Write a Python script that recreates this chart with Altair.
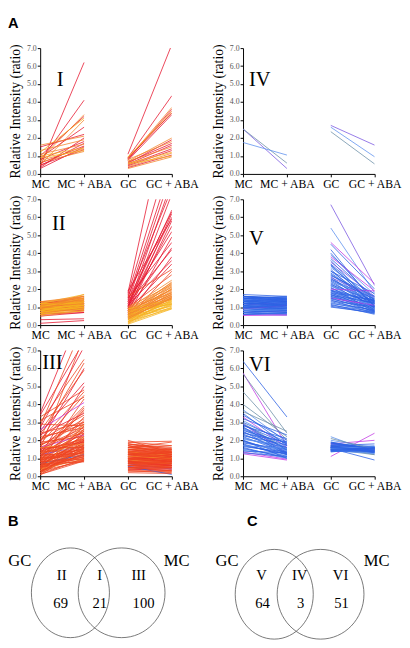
import altair as alt
import pandas as pd

CONDS = ["MC", "MC + ABA", "GC", "GC + ABA"]
TONES = ["r", "s", "o", "y", "b", "l", "g", "p", "m"]
TONE_COLORS = ["#e6162e", "#ee4421", "#f3862a", "#f6b420", "#2d62e4",
               "#5d90ee", "#6c8fa8", "#7a58e2", "#c23ae4"]

# (MC, MC+ABA, GC, GC+ABA, tone)
panel_I = [
    (0.40, 6.20, 1.10, 7.20, "r"), (0.70, 4.10, 0.90, 4.35, "r"), (0.80, 3.30, 0.85, 3.70, "o"),
    (1.00, 3.20, 0.80, 3.60, "r"), (0.50, 3.00, 0.90, 3.50, "o"), (1.20, 3.10, 0.95, 3.40, "y"),
    (0.90, 2.60, 0.75, 3.30, "r"), (1.50, 2.20, 0.85, 3.40, "r"), (1.60, 2.10, 0.70, 2.00, "o"),
    (0.35, 2.00, 0.60, 1.90, "r"), (1.30, 1.90, 0.80, 1.80, "o"), (0.80, 1.80, 0.65, 1.70, "r"),
    (0.45, 1.70, 0.55, 1.60, "r"), (1.10, 1.65, 0.70, 1.50, "o"), (0.60, 1.55, 0.50, 1.40, "r"),
    (0.30, 1.50, 0.45, 1.30, "r"), (1.00, 1.45, 0.60, 1.20, "y"), (0.75, 1.40, 0.40, 1.15, "o"),
    (0.50, 1.35, 0.35, 1.05, "r"), (0.90, 1.30, 0.55, 1.00, "y"), (0.65, 1.25, 0.30, 0.95, "o"),
]

panel_II = [
    (0.9, 1.1, 1.8, 13.0, "r"), (1.2, 1.5, 1.7, 10.0, "r"), (0.3, 0.35, 1.5, 9.0, "r"),
    (1.0, 1.2, 1.3, 8.5, "r"), (0.8, 0.9, 1.0, 8.0, "r"), (1.1, 1.0, 1.6, 7.6, "r"),
    (0.6, 0.8, 0.9, 7.3, "r"), (1.3, 1.1, 1.2, 6.4, "r"), (0.9, 1.3, 1.4, 6.3, "r"),
    (1.0, 0.9, 0.8, 6.2, "r"), (0.7, 1.0, 1.1, 6.0, "r"), (1.2, 1.4, 1.9, 5.9, "r"),
    (0.1, 0.25, 0.7, 5.8, "r"), (0.8, 1.1, 1.0, 5.5, "r"), (1.1, 1.2, 1.3, 5.2, "r"),
    (0.5, 0.7, 0.6, 4.9, "r"), (1.0, 1.0, 1.5, 4.6, "r"), (0.9, 0.8, 0.9, 4.3, "r"),
    (1.2, 1.3, 1.2, 4.2, "r"), (0.7, 0.9, 0.5, 3.8, "r"), (1.0, 1.1, 1.1, 3.6, "r"),
    (0.6, 0.7, 0.8, 3.4, "r"), (1.1, 1.3, 1.6, 3.1, "s"), (0.8, 1.0, 0.4, 3.0, "s"),
    (1.3, 1.2, 1.0, 2.8, "s"),
    (1.0, 1.7, 0.9, 2.5, "o"), (0.8, 1.5, 0.6, 2.4, "o"), (1.2, 1.6, 0.8, 2.35, "o"),
    (0.9, 1.4, 0.5, 2.3, "o"), (0.7, 1.2, 1.0, 2.25, "o"), (1.1, 1.5, 0.7, 2.2, "o"),
    (0.6, 1.0, 0.4, 2.15, "o"), (1.0, 1.3, 0.9, 2.1, "o"), (1.2, 1.1, 0.3, 2.05, "o"),
    (0.9, 1.2, 0.6, 2.0, "o"), (0.8, 1.3, 0.8, 1.95, "o"), (1.1, 1.4, 0.5, 1.9, "o"),
    (0.7, 0.9, 0.2, 1.85, "o"), (1.0, 1.6, 0.7, 1.8, "o"), (1.3, 1.5, 0.9, 1.8, "o"),
    (0.6, 1.1, 0.4, 1.75, "o"), (0.9, 1.0, 0.6, 1.7, "o"), (1.2, 1.3, 0.3, 1.65, "o"),
    (0.8, 1.2, 0.8, 1.6, "o"), (1.0, 1.1, 0.5, 1.6, "o"), (0.5, 0.8, 0.1, 1.55, "o"),
    (1.1, 1.6, 0.7, 1.5, "o"), (0.7, 1.1, 0.4, 1.5, "o"), (0.9, 1.4, 0.6, 1.45, "o"),
    (1.2, 1.2, 0.2, 1.4, "y"), (1.0, 1.5, 0.9, 1.4, "y"), (0.8, 1.0, 0.5, 1.35, "y"),
    (0.6, 0.9, 0.3, 1.3, "y"), (1.1, 1.3, 0.7, 1.3, "y"), (0.9, 1.1, 0.4, 1.25, "y"),
    (1.0, 1.4, 0.6, 1.2, "y"), (0.7, 1.0, 0.2, 1.2, "y"), (1.2, 1.7, 0.8, 1.15, "y"),
    (0.8, 1.2, 0.3, 1.1, "y"), (0.9, 0.9, 0.5, 1.05, "y"), (1.1, 1.2, 0.1, 1.0, "y"),
    (0.6, 0.8, 0.4, 0.95, "y"), (1.0, 1.1, 0.05, 0.9, "y"), (0.8, 1.3, 0.2, 0.92, "y"),
    (1.3, 1.6, 0.6, 1.7, "o"), (0.9, 1.5, 0.35, 1.55, "o"), (1.0, 1.2, 0.75, 2.0, "o"),
    (0.7, 1.1, 0.15, 1.15, "y"), (1.1, 1.4, 0.45, 1.45, "o"),
]

panel_III = [
    (3.5, 9.5, 1.2, 0.9, "r"), (3.4, 7.5, 0.9, 1.1, "r"), (3.0, 6.5, 1.5, 1.2, "s"),
    (2.8, 8.5, 0.6, 0.5, "s"), (2.2, 6.3, 1.8, 1.4, "s"), (1.9, 6.0, 0.8, 0.7, "r"),
    (1.5, 7.8, 1.0, 0.8, "s"), (2.5, 5.9, 2.0, 1.3, "s"), (1.2, 5.0, 0.5, 0.6, "r"),
    (3.3, 4.8, 1.4, 1.0, "s"), (2.0, 4.7, 0.7, 0.4, "s"), (0.8, 4.3, 1.1, 0.9, "s"),
    (2.6, 4.1, 0.9, 0.6, "m"), (1.4, 3.9, 1.6, 1.5, "s"), (1.0, 3.7, 0.4, 0.3, "s"),
    (2.3, 3.5, 1.3, 1.1, "r"), (0.6, 3.3, 0.8, 0.9, "s"), (1.7, 3.0, 1.9, 1.95, "s"),
    (1.1, 2.9, 0.6, 0.5, "s"), (2.9, 2.8, 1.0, 0.8, "s"), (0.4, 2.8, 1.2, 1.3, "s"),
    (1.6, 2.7, 0.3, 0.2, "s"), (0.9, 2.6, 1.5, 1.4, "o"), (1.3, 2.5, 0.9, 1.0, "s"),
    (0.2, 2.4, 0.7, 0.6, "s"), (1.8, 2.4, 1.7, 1.2, "s"), (0.7, 2.3, 1.1, 0.95, "s"),
    (1.6, 2.3, 0.5, 0.45, "m"), (1.0, 2.2, 1.4, 1.3, "s"), (0.5, 2.2, 0.8, 0.7, "o"),
    (1.4, 2.1, 1.2, 1.0, "s"), (0.3, 2.0, 0.6, 0.55, "s"), (1.1, 2.0, 1.8, 1.6, "s"),
    (0.8, 1.95, 1.0, 1.1, "s"), (1.5, 1.9, 0.4, 0.35, "r"), (0.6, 1.85, 1.3, 1.2, "s"),
    (1.2, 1.7, 0.7, 0.4, "p"), (0.9, 1.8, 1.6, 1.4, "s"), (0.2, 1.75, 0.9, 0.85, "s"),
    (1.3, 1.7, 1.1, 1.25, "o"), (0.4, 1.7, 0.5, 0.6, "s"), (1.0, 1.65, 1.5, 1.3, "s"),
    (0.7, 1.6, 0.8, 0.75, "s"), (1.6, 1.6, 1.2, 1.1, "s"), (0.1, 1.55, 0.3, 0.25, "s"),
    (0.5, 1.5, 1.0, 0.9, "o"), (1.1, 1.5, 1.4, 1.5, "s"), (0.8, 1.45, 0.6, 0.7, "s"),
    (0.3, 1.4, 1.7, 1.3, "s"), (1.4, 1.4, 0.9, 0.8, "s"), (0.6, 1.35, 1.2, 1.0, "s"),
    (0.9, 1.3, 0.4, 0.5, "s"), (0.2, 1.3, 1.3, 1.2, "o"), (1.2, 1.25, 0.7, 0.65, "s"),
    (0.4, 1.2, 1.1, 1.15, "s"), (0.7, 1.2, 0.55, 0.1, "b"), (1.0, 1.15, 1.6, 1.35, "s"),
    (0.3, 1.1, 0.8, 0.9, "s"), (0.5, 1.1, 1.0, 0.95, "s"), (0.8, 1.05, 1.4, 1.1, "s"),
    (0.1, 1.0, 0.5, 0.4, "s"), (0.6, 1.0, 1.2, 1.3, "s"), (0.4, 0.95, 0.9, 0.7, "o"),
    (0.2, 0.9, 1.5, 1.5, "s"), (0.5, 0.9, 0.6, 0.6, "s"), (0.3, 0.85, 1.1, 0.9, "s"),
    (0.7, 0.8, 0.3, 0.3, "s"), (2.0, 3.4, 1.0, 1.0, "s"), (2.4, 5.2, 0.8, 0.6, "r"),
    (1.8, 4.5, 1.3, 1.4, "s"), (0.9, 3.1, 0.7, 0.85, "s"), (1.3, 3.6, 1.6, 1.7, "s"),
    (0.5, 2.6, 0.5, 0.3, "s"), (2.7, 7.2, 1.1, 0.8, "r"), (1.7, 3.2, 0.9, 1.2, "s"),
    (3.1, 4.4, 1.8, 1.5, "s"), (0.3, 2.9, 1.4, 1.0, "o"), (1.1, 3.8, 0.6, 0.8, "s"),
    (2.1, 2.9, 1.2, 1.3, "s"), (1.5, 2.6, 0.4, 0.5, "s"), (0.6, 2.1, 1.0, 0.7, "s"),
    (1.9, 2.2, 0.8, 0.9, "s"), (0.8, 2.5, 1.3, 1.1, "s"), (2.2, 2.7, 1.5, 1.2, "s"),
    (1.2, 2.0, 0.2, 0.15, "s"), (0.4, 1.9, 1.7, 1.55, "s"), (1.6, 1.8, 1.1, 1.0, "o"),
    (0.7, 1.75, 0.7, 0.8, "s"), (1.3, 1.9, 1.9, 1.7, "s"), (0.2, 1.6, 0.9, 1.05, "s"),
    (0.9, 1.55, 0.5, 0.45, "s"), (1.4, 2.05, 1.4, 1.2, "s"), (0.5, 1.4, 1.2, 1.4, "s"),
    (0.3, 1.25, 0.8, 0.6, "s"), (1.0, 1.35, 1.0, 1.2, "s"), (0.6, 1.15, 0.6, 0.5, "s"),
    (0.8, 0.95, 1.3, 1.0, "s"), (0.1, 0.85, 1.0, 0.8, "s"), (1.2, 2.35, 1.6, 1.9, "s"),
    (2.4, 3.0, 0.7, 0.7, "s"),
]

panel_IV = [
    (2.5, 0.3, 2.7, 1.6, "p"), (2.5, 0.6, 2.35, 0.55, "g"), (1.75, 1.05, 2.6, 0.95, "l"),
]

panel_V = [
    (1.2, 1.2, 6.7, 2.2, "p"), (1.0, 0.9, 5.4, 1.8, "l"), (0.55, 0.6, 4.6, 2.3, "m"),
    (1.5, 1.4, 4.5, 2.0, "b"), (0.8, 0.9, 4.2, 1.2, "b"), (1.3, 1.1, 3.9, 1.7, "l"),
    (0.7, 0.8, 3.8, 1.9, "m"), (1.6, 1.5, 3.7, 1.5, "b"), (1.1, 1.2, 3.6, 1.0, "b"),
    (0.9, 1.0, 3.5, 1.6, "p"), (1.4, 1.3, 3.4, 1.3, "b"), (0.6, 0.7, 3.3, 1.1, "b"),
    (1.2, 1.0, 3.2, 1.45, "l"), (1.7, 1.6, 3.1, 0.9, "b"), (1.0, 1.1, 3.0, 1.75, "b"),
    (0.8, 0.7, 2.9, 1.2, "b"), (1.5, 1.2, 2.85, 1.0, "l"), (1.3, 1.4, 2.8, 1.4, "b"),
    (0.7, 0.6, 2.7, 0.8, "b"), (1.1, 1.3, 2.65, 1.55, "p"), (0.9, 0.8, 2.6, 1.1, "b"),
    (1.6, 1.3, 2.5, 1.3, "b"), (1.2, 1.1, 2.45, 0.95, "b"), (0.6, 0.55, 2.4, 1.6, "l"),
    (1.4, 1.5, 2.35, 1.2, "b"), (1.0, 0.95, 2.3, 0.85, "b"), (0.8, 1.0, 2.25, 1.35, "b"),
    (1.5, 1.4, 2.2, 1.05, "b"), (1.1, 1.0, 2.15, 1.5, "l"), (0.7, 0.9, 2.1, 0.75, "b"),
    (1.3, 1.2, 2.05, 1.15, "b"), (0.9, 1.1, 2.0, 1.9, "m"), (1.6, 1.4, 1.95, 1.0, "b"),
    (1.2, 1.3, 1.9, 1.3, "b"), (0.6, 0.7, 1.9, 0.9, "b"), (1.4, 1.2, 1.85, 1.1, "l"),
    (1.0, 1.2, 1.8, 0.8, "b"), (0.8, 0.8, 1.8, 1.4, "b"), (1.5, 1.3, 1.75, 1.2, "b"),
    (1.1, 1.1, 1.7, 0.7, "b"), (0.7, 0.75, 1.7, 1.0, "b"), (1.3, 1.5, 1.65, 1.25, "b"),
    (0.9, 0.9, 1.6, 0.85, "l"), (1.6, 1.5, 1.6, 1.05, "b"), (1.2, 1.25, 1.55, 0.95, "b"),
    (0.55, 0.55, 1.5, 1.1, "m"), (1.4, 1.1, 1.5, 0.75, "b"), (1.0, 1.05, 1.45, 0.9, "b"),
    (0.8, 0.95, 1.4, 0.65, "b"), (1.5, 1.55, 1.35, 1.0, "b"), (1.1, 0.9, 1.3, 0.8, "b"),
    (0.7, 0.65, 1.25, 0.7, "l"), (1.3, 1.35, 1.2, 0.85, "b"), (0.9, 1.15, 1.15, 0.6, "b"),
    (1.6, 1.45, 1.1, 0.75, "b"), (1.2, 1.15, 1.05, 0.65, "b"), (0.6, 0.65, 1.0, 0.7, "b"),
    (1.4, 1.25, 3.0, 1.25, "b"), (1.0, 0.85, 2.75, 1.6, "b"), (0.8, 0.85, 2.2, 0.9, "l"),
    (1.5, 1.6, 4.0, 1.35, "b"), (1.1, 1.4, 3.35, 1.05, "b"), (0.7, 0.8, 2.55, 1.45, "b"),
    (1.3, 1.0, 1.95, 1.35, "b"),
]

panel_VI = [
    (6.4, 3.3, 1.6, 1.5, "b"), (5.75, 1.7, 1.1, 2.4, "m"), (5.7, 2.4, 1.5, 1.4, "g"),
    (4.7, 2.0, 1.7, 1.6, "g"), (3.7, 1.9, 2.2, 1.3, "l"), (3.4, 2.0, 1.4, 1.5, "b"),
    (3.3, 1.6, 1.8, 2.0, "m"), (3.1, 1.8, 1.6, 1.7, "l"), (2.95, 1.5, 1.5, 1.2, "g"),
    (2.9, 1.3, 1.8, 1.45, "m"), (2.8, 2.1, 1.65, 1.55, "b"), (2.7, 1.7, 1.4, 1.35, "b"),
    (2.6, 1.4, 2.0, 1.6, "l"), (2.5, 1.2, 1.55, 0.9, "b"), (2.4, 1.9, 1.7, 1.8, "b"),
    (2.3, 1.5, 1.45, 1.5, "l"), (2.2, 1.3, 1.9, 1.45, "b"), (2.1, 1.6, 1.6, 1.3, "b"),
    (2.0, 1.2, 1.35, 1.6, "b"), (1.9, 1.4, 1.75, 1.5, "l"), (1.8, 1.1, 1.5, 1.65, "b"),
    (1.7, 1.25, 1.6, 1.4, "b"), (1.6, 1.0, 1.85, 1.55, "b"), (1.5, 1.15, 1.4, 1.3, "l"),
    (1.35, 0.95, 1.65, 1.45, "m"), (1.25, 0.9, 1.5, 1.5, "m"), (3.6, 2.5, 1.7, 1.2, "g"),
    (2.85, 1.8, 1.45, 1.4, "b"), (2.45, 1.6, 1.6, 1.55, "b"), (2.15, 1.45, 1.55, 1.35, "l"),
    (1.95, 1.3, 1.7, 1.45, "b"), (1.75, 1.2, 1.45, 1.5, "b"), (1.55, 1.05, 1.8, 1.6, "b"),
    (1.45, 1.0, 1.5, 1.25, "l"), (3.0, 1.9, 1.6, 1.65, "b"), (2.65, 1.55, 1.4, 1.4, "b"),
    (2.35, 1.35, 1.75, 1.55, "b"), (2.05, 1.7, 1.5, 1.45, "l"), (1.85, 1.5, 1.65, 1.35, "b"),
    (1.65, 1.35, 1.55, 1.5, "b"), (4.0, 2.2, 2.1, 1.5, "g"), (3.2, 2.3, 1.5, 1.6, "b"),
    (2.55, 1.85, 1.85, 1.4, "b"), (1.3, 1.1, 1.6, 1.35, "b"), (2.75, 1.25, 1.45, 1.55, "b"),
    (2.25, 1.75, 1.7, 1.3, "b"), (1.7, 1.55, 1.55, 1.65, "l"), (3.5, 1.7, 1.9, 1.5, "b"),
    (2.0, 1.0, 1.4, 1.45, "b"), (1.4, 1.3, 1.65, 1.4, "b"), (2.9, 1.45, 1.5, 1.55, "b"),
]

# Venn diagrams: region labels and counts
venn_B = {"left": "GC", "right": "MC", "regions": ["II", "I", "III"], "counts": ["69", "21", "100"]}
venn_C = {"left": "GC", "right": "MC", "regions": ["V", "IV", "VI"], "counts": ["64", "3", "51"]}

SERIF = "Liberation Serif"
SANS = "Liberation Sans"
W, H = 135, 129
VW, VH = 135, 130


def long_df(rows):
    recs = []
    for i, (mc, mca, gc, gca, t) in enumerate(rows):
        for seg, pts in (("m", (("MC", mc), ("MC + ABA", mca))),
                         ("g", (("GC", gc), ("GC + ABA", gca)))):
            for cond, v in pts:
                recs.append({"seg": f"{i}{seg}", "cond": cond, "v": v, "tone": t})
    return pd.DataFrame(recs)


def panel(rows, numeral, nx, ny, letter=None):
    df = long_df(rows)
    lines = alt.Chart(df).mark_line(strokeWidth=0.8, clip=True).encode(
        x=alt.X("cond:N", sort=CONDS,
                scale=alt.Scale(domain=CONDS, padding=0),
                axis=alt.Axis(title=None, labelAngle=0, labelOverlap=False,
                              labelFont=SERIF, labelFontSize=12, labelColor="black",
                              labelPadding=2, tickSize=3, tickColor="black",
                              domainColor="black", domainWidth=1, grid=False)),
        y=alt.Y("v:Q", scale=alt.Scale(domain=[0, 7], nice=False, zero=False),
                axis=alt.Axis(values=[0, 1, 2, 3, 4, 5, 6, 7], format=".1f",
                              title="Relative Intensity (ratio)",
                              labelFont=SERIF, labelFontSize=8, labelColor="#555",
                              labelPadding=1, tickSize=3, tickColor="black",
                              domainColor="black", domainWidth=1, grid=False,
                              titleFont=SERIF, titleFontSize=14, titleFontWeight="normal",
                              titleColor="black", titlePadding=4)),
        color=alt.Color("tone:N", scale=alt.Scale(domain=TONES, range=TONE_COLORS), legend=None),
        detail="seg:N",
    )
    lab = alt.Chart(pd.DataFrame({"t": [numeral]})).mark_text(
        font=SERIF, fontSize=21, align="left", baseline="alphabetic", color="black"
    ).encode(x=alt.value(nx), y=alt.value(ny), text="t:N")
    layers = [lines, lab]
    if letter:
        layers.append(alt.Chart(pd.DataFrame({"t": [letter]})).mark_text(
            font=SANS, fontSize=15, fontWeight="bold", align="left", baseline="top", color="black"
        ).encode(x=alt.value(-33), y=alt.value(-33), text="t:N"))
    return alt.layer(*layers).properties(width=W, height=H)


def venn(spec, letter, letter_x, circles, left_x, right_x, reg_x, cnt_x):
    # circles: list of (cx, cy, rx, ry)
    cdf = pd.DataFrame({"cid": ["L", "R"],
                        "cx": [c[0] for c in circles], "cy": [c[1] for c in circles]})
    k = 0.5523
    paths = []
    for c in circles:
        a = c[2] / c[3]
        paths.append(
            f"M0,-1C{k*a:.4f},-1,{a:.4f},{-k},{a:.4f},0C{a:.4f},{k},{k*a:.4f},1,0,1"
            f"C{-k*a:.4f},1,{-a:.4f},{k},{-a:.4f},0C{-a:.4f},{-k},{-k*a:.4f},-1,0,-1Z")
    ry = circles[0][3]
    xs = alt.Scale(domain=[0, VW], nice=False, zero=False)
    ys = alt.Scale(domain=[0, VH], nice=False, zero=False, reverse=True)
    circ = alt.Chart(cdf).mark_point(filled=False, stroke="#555", strokeWidth=0.8, opacity=1).encode(
        x=alt.X("cx:Q", scale=xs, axis=None),
        y=alt.Y("cy:Q", scale=ys, axis=None),
        shape=alt.Shape("cid:N", scale=alt.Scale(domain=["L", "R"], range=paths), legend=None),
        size=alt.value((2 * ry) ** 2),
    )
    sdf = pd.DataFrame({"t": [spec["left"], spec["right"]], "x": [left_x, right_x], "y": [61, 61]})
    sets = alt.Chart(sdf).mark_text(font=SERIF, fontSize=17, align="center", baseline="middle",
                                    color="black").encode(
        x=alt.X("x:Q", scale=xs, axis=None), y=alt.Y("y:Q", scale=ys, axis=None), text="t:N")
    rdf = pd.DataFrame({"t": spec["regions"], "x": reg_x, "y": [75, 75, 75]})
    regs = alt.Chart(rdf).mark_text(font=SERIF, fontSize=15, align="center", baseline="middle",
                                    color="black").encode(
        x=alt.X("x:Q", scale=xs, axis=None), y=alt.Y("y:Q", scale=ys, axis=None), text="t:N")
    ndf = pd.DataFrame({"t": spec["counts"], "x": cnt_x, "y": [104, 104, 104]})
    cnts = alt.Chart(ndf).mark_text(font=SERIF, fontSize=15, align="center", baseline="middle",
                                    color="black").encode(
        x=alt.X("x:Q", scale=xs, axis=None), y=alt.Y("y:Q", scale=ys, axis=None), text="t:N")
    let = alt.Chart(pd.DataFrame({"t": [letter]})).mark_text(
        font=SANS, fontSize=15, fontWeight="bold", align="left", baseline="middle", color="black"
    ).encode(x=alt.value(letter_x), y=alt.value(20), text="t:N")
    return alt.layer(circ, sets, regs, cnts, let).properties(width=VW, height=VH)


pI = panel(panel_I, "I", 17, 39, letter="A")
pIV = panel(panel_IV, "IV", 6, 39)
pII = panel(panel_II, "II", 12, 32)
pV = panel(panel_V, "V", 6, 47)
pIII = panel(panel_III, "III", 2, 19)
pVI = panel(panel_VI, "VI", 6, 21)

vB = venn(venn_B, "B", -33, [(31, 93.5, 40, 46), (83.5, 93.5, 44.5, 46)],
          -21, 140, [22, 61, 101], [21, 61, 106])
vC = venn(venn_C, "C", 4, [(32, 95, 44, 46), (79.5, 95, 44.5, 46)],
          -16.5, 137, [19, 58, 100], [20, 59, 101])

chart = alt.concat(pI, pIV, pII, pV, pIII, pVI, vB, vC, columns=2,
                   spacing={"row": 26, "column": 73}, bounds="flush").properties(
    padding=0
).configure_view(stroke=None).configure_axis(
    labelFont=SERIF, titleFont=SERIF, titleFontWeight="normal", titleColor="black",
    domainColor="black", tickColor="black", grid=False, domainWidth=1
)

chart.save("out.html", embed_options={"renderer": "svg", "actions": False})
